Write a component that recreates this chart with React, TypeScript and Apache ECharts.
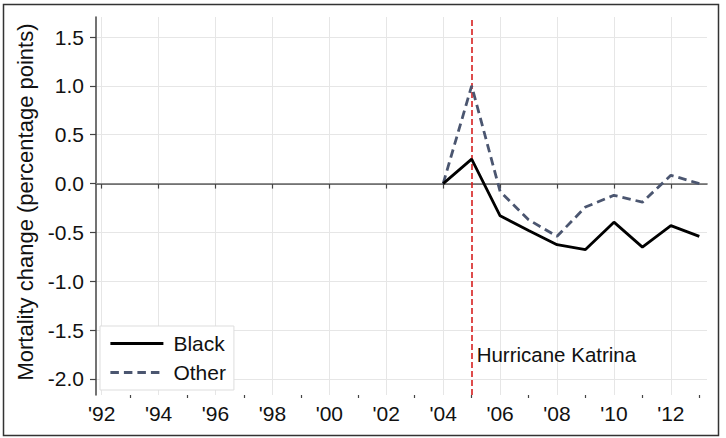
import React, { useEffect, useRef } from "react";
import * as echarts from "echarts";

const years = [2004, 2005, 2006, 2007, 2008, 2009, 2010, 2011, 2012, 2013];
const blackValues = [0, 0.25, -0.33, -0.48, -0.625, -0.675, -0.395, -0.65, -0.43, -0.54];
const otherValues = [0, 1.0, -0.08, -0.37, -0.54, -0.24, -0.12, -0.19, 0.085, 0.0];
const yTicks = [-2.0, -1.5, -1.0, -0.5, 0.0, 0.5, 1.0, 1.5];
const xMajorTicks = [1992, 1994, 1996, 1998, 2000, 2002, 2004, 2006, 2008, 2010, 2012];
const xMinorTicks = [1993, 1995, 1997, 1999, 2001, 2003, 2005, 2007, 2009, 2011, 2013];
const eventYear = 2005;
const eventLabel = "Hurricane Katrina";
const eventLabelAt = [2005, -1.75];

const FONT = "'Liberation Sans', Arial, sans-serif";

export default function App() {
  const ref = useRef<HTMLDivElement>(null);
  useEffect(() => {
    document.body.style.margin = "0";
    const chart = echarts.init(ref.current!, null, { renderer: "svg" });
    const pairs = (vals: number[]) => years.map((y, i) => [y, vals[i]]);
    const fmtYear = (v: number) => "'" + String(Math.round(v) % 100).padStart(2, "0");
    chart.setOption({
      animation: false,
      backgroundColor: "#ffffff",
      textStyle: { fontFamily: FONT },
      grid: { left: 96, top: 17, right: 19, bottom: 43, containLabel: false },
      legend: {
        orient: "vertical",
        left: 100,
        top: 326,
        padding: [7, 8, 7, 9],
        itemGap: 8,
        itemWidth: 53,
        itemHeight: 14,
        backgroundColor: "#ffffff",
        borderColor: "#dddddd",
        borderWidth: 1,
        itemStyle: { opacity: 0 },
        lineStyle: { width: 2.8 },
        textStyle: { fontSize: 21, color: "#111", fontFamily: FONT, padding: [0, 0, 0, 5] },
        data: ["Black", "Other"],
      },
      xAxis: [
        {
          type: "value",
          min: 1991.8,
          max: 2013.27,
          axisLine: { show: true, lineStyle: { color: "#444", width: 1.5 } },
          axisTick: { show: true, customValues: xMajorTicks, length: 5, lineStyle: { color: "#444", width: 1.2 } },
          axisLabel: {
            customValues: xMajorTicks,
            formatter: fmtYear,
            fontSize: 21,
            color: "#111",
            margin: 8,
            fontFamily: FONT,
          },
          splitLine: { show: true, lineStyle: { color: "#e6e6e6", width: 1 } },
        },
        {
          type: "value",
          position: "bottom",
          min: 1991.8,
          max: 2013.27,
          axisLine: { show: false },
          axisTick: { show: true, customValues: xMinorTicks, length: 3, lineStyle: { color: "#444", width: 1.2 } },
          axisLabel: { show: false },
          splitLine: { show: false },
        },
      ],
      yAxis: {
        type: "value",
        min: -2.164,
        max: 1.705,
        name: "Mortality change (percentage points)",
        nameLocation: "middle",
        nameGap: 55,
        nameTextStyle: { fontSize: 22, color: "#111", fontFamily: FONT, padding: [0, 0, 0, 8] },
        axisLine: { show: true, lineStyle: { color: "#444", width: 1.5 } },
        axisTick: { show: true, customValues: yTicks, length: 6, lineStyle: { color: "#444", width: 1.2 } },
        axisLabel: {
          customValues: yTicks,
          formatter: (v: number) => v.toFixed(1),
          fontSize: 21,
          color: "#111",
          margin: 12,
          fontFamily: FONT,
        },
        splitLine: { show: true, lineStyle: { color: "#e6e6e6", width: 1 } },
      },
      series: [
        {
          name: "Black",
          type: "line",
          data: pairs(blackValues),
          symbol: "none",
          lineStyle: { color: "#000000", width: 2.8 },
          itemStyle: { color: "#000000" },
          z: 5,
          markLine: {
            silent: true,
            symbol: "none",
            label: { show: false },
            data: [
              { yAxis: 0, lineStyle: { color: "#8c8c8c", width: 1.2, type: "solid" } },
              { xAxis: eventYear, lineStyle: { color: "#d62020", width: 1.6, type: [6, 3] } },
            ],
            z: 3,
          },
          markPoint: {
            silent: true,
            symbol: "circle",
            symbolSize: 0,
            data: [{ coord: eventLabelAt, value: eventLabel }],
            label: {
              show: true,
              position: "right",
              distance: 5,
              formatter: eventLabel,
              fontSize: 20.5,
              color: "#111",
              fontFamily: FONT,
            },
          },
        },
        {
          name: "Other",
          type: "line",
          data: pairs(otherValues),
          symbol: "none",
          lineStyle: { color: "#4b5670", width: 2.8, type: [8.5, 5] },
          itemStyle: { color: "#4b5670" },
          z: 4,
        },
      ],
      graphic: [
        {
          type: "rect",
          silent: true,
          shape: { x: 3.5, y: 4.5, width: 715, height: 431 },
          style: { fill: "none", stroke: "#333", lineWidth: 1.5 },
          z: 100,
        },
      ],
    });
    return () => chart.dispose();
  }, []);
  return <div ref={ref} style={{ width: 726, height: 438 }} />;
}
